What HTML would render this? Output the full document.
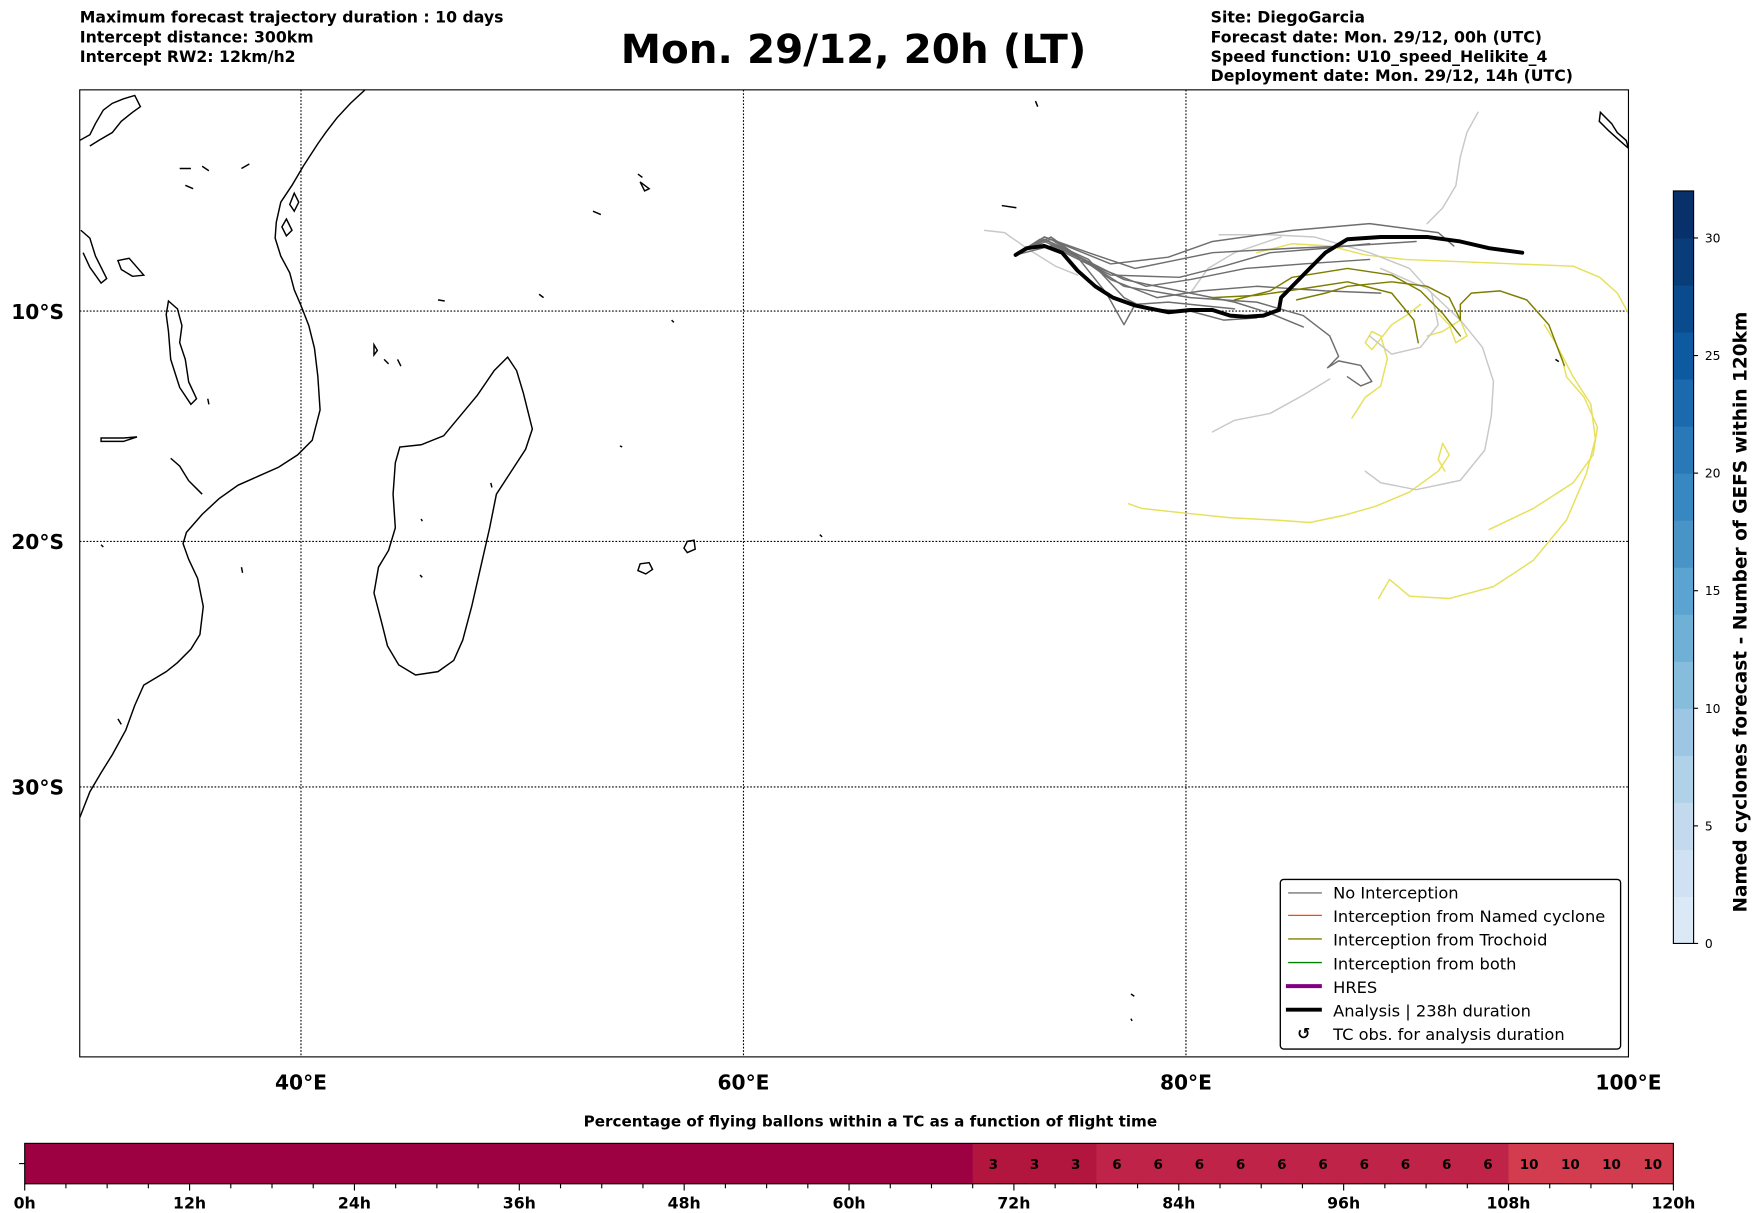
<!DOCTYPE html>
<html><head><meta charset="utf-8"><style>
html,body{margin:0;padding:0;background:#fff}
svg{display:block}
text{font-family:"DejaVu Sans","Liberation Sans",sans-serif}
</style></head><body>
<svg id="fig" width="1752" height="1213" viewBox="0 0 1560 1080" preserveAspectRatio="none" xmlns="http://www.w3.org/2000/svg">
<g font-size="14" font-weight="bold">
<text x="71" y="20">Maximum forecast trajectory duration : 10 days</text>
<text x="71" y="38">Intercept distance: 300km</text>
<text x="71" y="55">Intercept RW2: 12km/h2</text>
</g>
<text x="760" y="56" font-size="36" font-weight="bold" text-anchor="middle">Mon. 29/12, 20h (LT)</text>
<g font-size="14" font-weight="bold">
<text x="1078" y="20">Site: DiegoGarcia</text>
<text x="1078" y="38">Forecast date: Mon. 29/12, 00h (UTC)</text>
<text x="1078" y="55">Speed function: U10_speed_Helikite_4</text>
<text x="1078" y="72">Deployment date: Mon. 29/12, 14h (UTC)</text>
</g>
<defs><clipPath id="mapclip"><rect x="71" y="80" width="1379" height="861"/></clipPath></defs>
<g id="map">
<rect x="71" y="80" width="1379" height="861" fill="#fff"/>
<g id="grid"></g>
<g clip-path="url(#mapclip)" fill="none" stroke="#000" stroke-width="1.3">
<path d="M325,80 L312,92 300,105 290,118 283,128 270,148 260,165 250,180 246,198 245,212 250,228 258,243 262,258 268,272 275,290 280,310 283,335 285,365 278,392 265,405 248,416 230,424 212,432 195,444 180,458 166,474 163,484 168,498 176,515 181,540 178,565 170,578 158,590 148,598 128,610 120,628 112,650 100,672 90,688 80,705 71,728"/>
<path d="M72,205 L80,212 85,228 95,248 90,252 80,238 74,225"/>
<path d="M150,268 L158,275 162,290 160,305 165,320 168,340 175,355 170,360 160,345 152,320 150,295 148,280 Z"/>
<path d="M105,232 L115,230 122,238 128,245 118,246 108,240 Z"/>
<path d="M452,318 L460,330 466,350 474,382 468,400 455,420 442,440 436,470 428,505 420,540 412,570 404,588 390,598 370,601 355,592 345,575 340,555 333,528 337,505 346,490 352,470 350,440 352,412 356,398 375,396 395,388 410,370 425,352 440,330 Z"/>
<path d="M71,125 L80,120 85,110 92,98 100,92 110,88 120,85 125,95 118,100 108,108 100,118 88,125 80,130"/>
<path d="M262,172 L266,180 262,188 258,182 Z M255,195 L260,205 255,210 251,202 Z"/>
<path d="M90,390 L110,390 122,389 110,393 90,393 Z"/>
<path d="M152,408 L160,415 168,428 175,435 180,440"/>
<path d="M570,502 L578,501 581,507 575,511 568,508 Z"/>
<path d="M612,482 L618,481 619,489 612,492 609,488 Z"/>
<path d="M333,307 L336,312 333,316 Z M342,320 L346,324 Z M354,320 L357,326 Z"/>
<path d="M568,155 L572,158 Z M570,162 L578,168 574,170 Z"/>
<path d="M1425,100 L1435,110 1440,118 1448,125 1450,132 1442,125 1432,116 1424,108 Z"/>
<path d="M160,150 L170,150 M165,165 L172,168 M180,148 L186,152 M215,150 L222,146 M390,267 L396,268 M480,262 L484,265 M528,188 L535,191 M598,285 L600,287 M892,183 L905,185 M922,90 L924,95 M1385,320 L1388,322 M1007,885 L1010,887 M1007,907 L1008,909 M730,476 L732,478 M552,397 L554,398 M437,430 L438,434 M374,512 L376,514 M375,462 L376,464 M185,355 L186,360 M215,505 L216,510 M90,485 L92,487 M105,640 L108,645"/>
</g>
<g id="traj" clip-path="url(#mapclip)" fill="none" stroke-linejoin="round" stroke-linecap="round"></g>
<rect x="71" y="80" width="1379" height="861" fill="none" stroke="#000" stroke-width="1"/>
<g id="axlabels" font-size="18" font-weight="bold"></g>
<g font-size="14.5">
<rect x="1140" y="783" width="303" height="151" rx="3" fill="#fff" stroke="#000" stroke-width="1.2"/>
<line x1="1147" y1="795" x2="1177" y2="795" stroke="#777" stroke-width="1.2"/><text x="1187" y="800">No Interception</text>
<line x1="1147" y1="815" x2="1177" y2="815" stroke="#ff4500" stroke-width="1.2"/><text x="1187" y="821">Interception from Named cyclone</text>
<line x1="1147" y1="836" x2="1177" y2="836" stroke="#808000" stroke-width="1.2"/><text x="1187" y="842">Interception from Trochoid</text>
<line x1="1147" y1="857" x2="1177" y2="857" stroke="#008000" stroke-width="1.2"/><text x="1187" y="863">Interception from both</text>
<line x1="1145" y1="878" x2="1177" y2="878" stroke="#800080" stroke-width="3.5"/><text x="1187" y="884">HRES</text>
<line x1="1145" y1="899" x2="1177" y2="899" stroke="#000" stroke-width="3.5"/><text x="1187" y="905">Analysis | 238h duration</text>
<text x="1155" y="925" font-weight="bold" font-size="14">↺</text><text x="1187" y="926">TC obs. for analysis duration</text>
</g>
</g>
<g id="cbar"></g>
<text transform="translate(1555,545) rotate(-90)" font-size="16.5" font-weight="bold" text-anchor="middle">Named cyclones forecast - Number of GEFS within 120km</text>
<text x="775" y="1003" font-size="13.5" font-weight="bold" text-anchor="middle">Percentage of flying ballons within a TC as a function of flight time</text>
<g id="tbar"></g>
</svg>
<script>
const NS='http://www.w3.org/2000/svg';
// ---- data ----
const latTicks=[10,20,30];
const lonTicks=[40,60,80,100];
const analysisTrack=[[72.3,7.5],[72.8,7.2],[73.6,7.1],[74.4,7.4],[75.1,8.2],[75.9,8.9],[76.7,9.4],[77.7,9.75],[79.2,10.05],[80.2,9.95],[81.2,9.95],[82.0,10.2],[82.7,10.25],[83.5,10.2],[84.2,9.95],[84.3,9.4],[84.8,8.9],[85.5,8.2],[86.3,7.4],[87.3,6.8],[88.8,6.7],[90.9,6.7],[92.4,6.9],[93.7,7.2],[95.2,7.4]];
const noInterceptTracks=[
[[72.3,7.5],[73.6,6.7],[75.6,7.4],[77.7,8.1],[79.7,7.7],[81.2,7.4],[84.8,7.2],[87.3,7.1],[90.4,6.9]],
[[72.3,7.5],[73.6,6.8],[76.1,8.1],[78.2,8.9],[80.2,8.6],[82.7,8.1],[85.3,7.9],[88.3,7.7]],
[[72.3,7.5],[73.9,6.7],[76.6,8.6],[78.7,9.4],[80.7,9.1],[83.2,8.9],[86.3,9.1],[88.8,9.2]],
[[72.3,7.5],[73.6,6.8],[77.2,8.6],[80.2,9.2],[82.2,9.6],[83.8,10.1],[85.3,10.7]],
[[72.3,7.5],[73.4,6.8],[75.1,7.6],[76.4,9.2],[77.2,10.6],[77.7,9.7],[79.2,9.6],[82.2,9.9]],
[[72.3,7.5],[73.9,6.8],[77.2,8.9],[80.2,9.4],[83.2,9.6],[85.3,10.2],[86.5,11.1],[86.9,12.0],[86.4,12.5],[86.9,12.2],[87.9,12.4],[88.4,13.1],[87.9,13.3],[87.3,12.9]],
[[72.3,7.5],[73.6,6.7],[76.6,7.9],[79.2,7.6],[81.2,6.9],[84.8,6.4],[88.3,6.1],[91.4,6.5],[92.1,7.1]],
[[72.3,7.5],[73.9,7.1],[76.6,8.4],[79.7,8.5],[81.7,8.0],[83.8,7.4],[86.3,7.2],[88.3,7.0]],
[[72.3,7.5],[73.6,6.8],[75.6,7.7],[77.2,9.4],[78.2,9.9],[80.2,10.0],[81.7,10.4],[83.2,10.3]]
];
const lateTracks=[
[[70.9,6.4],[71.8,6.5],[72.8,7.2],[74.1,8.0],[75.1,8.4]],
[[90.9,6.1],[91.6,5.4],[92.2,4.4],[92.4,3.1],[92.7,2.0],[93.2,1.1]],
[[81.2,15.3],[82.2,14.8],[83.8,14.5],[85.3,13.7],[86.5,13.0]],
[[88.8,8.1],[90.9,9.0],[92.4,10.4],[93.4,11.6],[93.9,13.1],[93.8,14.6],[93.5,16.1],[92.4,17.4],[90.4,17.8],[88.8,17.5],[88.1,17.0]],
[[81.5,6.6],[83.8,6.6],[85.8,6.7],[88.3,7.4],[90.1,8.1],[91.1,9.2],[91.4,10.6],[90.6,11.6],[89.3,11.9],[88.3,11.1]],
[[80.2,9.2],[81.0,8.1],[82.2,7.4],[84.3,6.7]]
];
const trochoidTracks=[
[[82.2,9.5],[83.8,9.1],[84.8,8.5],[87.3,8.1],[89.3,8.4],[90.6,9.1],[91.6,10.1],[92.4,11.1]],
[[85.0,9.5],[86.3,9.2],[87.3,8.9],[89.3,8.7],[90.9,8.9],[91.9,9.4],[92.4,10.4],[92.4,9.7],[92.9,9.2],[94.2,9.1],[95.4,9.5],[96.4,10.6],[97.1,12.4]],
[[81.2,9.4],[83.2,9.3],[85.3,9.0],[87.3,8.7],[89.3,9.2],[90.3,10.4],[90.5,11.4]]
];
const fadedTracks=[
[[83.2,7.4],[84.8,7.0],[86.5,7.1],[88.1,7.5],[89.9,7.7],[92.4,7.8],[94.9,7.9],[97.5,8.0],[98.7,8.5],[99.5,9.2],[100.0,10.1]],
[[77.4,18.4],[78.0,18.6],[80.0,18.8],[82.0,19.0],[84.1,19.1],[85.6,19.2],[87.1,18.9],[88.6,18.5],[90.1,17.9],[91.4,17.0],[91.9,16.3],[91.6,15.8],[91.4,16.5],[91.7,17.0]],
[[88.7,22.4],[89.2,21.6],[90.1,22.3],[91.9,22.4],[93.9,21.9],[95.7,20.8],[97.2,19.1],[98.1,17.1],[98.5,15.6],[98.3,14.1],[97.5,12.9],[96.7,11.4],[96.2,10.6]],
[[93.7,19.5],[95.7,18.6],[97.5,17.5],[98.4,16.3],[98.6,15.1],[98.0,13.8],[97.2,12.9],[97.0,12.1]],
[[87.5,14.7],[88.1,13.8],[88.8,13.3],[89.1,12.1],[88.8,11.1],[88.4,10.9],[88.1,11.4],[88.4,11.7],[88.9,11.1],[89.3,10.6],[90.1,10.1],[90.6,9.7]],
[[90.9,11.1],[91.6,10.9],[92.4,10.4],[92.7,11.1],[92.2,11.4],[91.9,10.6],[91.4,10.1]]
];
const cbarTicks=[0,5,10,15,20,25,30];
const hourTicks=[0,12,24,36,48,60,72,84,96,108,120];
const pctValues=[0,0,0,0,0,0,0,0,0,0,0,0,0,0,0,0,0,0,0,0,0,0,0,3,3,3,6,6,6,6,6,6,6,6,6,6,10,10,10,10];
// ---- axes ----
const merc=l=>Math.log(Math.tan(Math.PI/4+l*Math.PI/360));
const X=lon=>71+(lon-30)*19.7;
const Y=lat=>277+(merc(lat)-merc(10))*1133;
function mk(tag,attrs,parent){const e=document.createElementNS(NS,tag);for(const k in attrs)e.setAttribute(k,attrs[k]);parent.appendChild(e);return e;}
const grid=document.getElementById('grid'),axl=document.getElementById('axlabels');
latTicks.forEach(l=>{const y=Y(l);
 const g=mk('line',{x1:71,x2:1450,y1:y,y2:y,stroke:'#000','stroke-width':1,'stroke-dasharray':'1.5,1.5'},grid);
 
 
 const t=mk('text',{x:57,y:y+7,'text-anchor':'end'},axl);t.textContent=l+'°S';
 
 });
lonTicks.forEach(l=>{const x=X(l);
 if(l<100){const g=mk('line',{x1:x,x2:x,y1:80,y2:941,stroke:'#000','stroke-width':1,'stroke-dasharray':'1.5,1.5'},grid);
 
 }
 const t=mk('text',{x:x,y:970,'text-anchor':'middle'},axl);t.textContent=l+'°E';
 
 });
const traj=document.getElementById('traj');
const pts=tr=>tr.map(p=>X(p[0]).toFixed(1)+','+Y(p[1]).toFixed(1)).join(' ');
function draw(list,color,w,name){list.forEach(tr=>{const e=mk('polyline',{points:pts(tr),stroke:color,'stroke-width':w},traj);
 
 });}
draw(fadedTracks,'#e6e05a',1.3,'trochoid-late-track');
draw(lateTracks,'#c8c8c8',1.3,'no-interception-late-track');
draw(noInterceptTracks,'#6e6e6e',1.3,'no-interception-track');
draw(trochoidTracks,'#7d7d00',1.3,'trochoid-track');
draw([analysisTrack],'#000',3.5,'analysis-track');
// colorbar
const cb=document.getElementById('cbar');const cbTop=170,cbBot=840,cbMax=32;
const CY=v=>cbBot-(v/cbMax)*(cbBot-cbTop);
const blues=['#dbe9f6','#cfe1f2','#c2d9ee','#b0d2e8','#9cc6e3','#86bcdc','#6fb0d7','#5ba3d0','#4894c7','#3787c0','#2979b8','#1b6aae','#0e5aa1','#094b8d','#083d7a','#08306b'];
blues.forEach((c,i)=>{const v0=i*2,v1=i*2+2;const r=mk('rect',{x:1490,y:CY(v1),width:18,height:CY(v0)-CY(v1)+0.5,fill:c},cb);
 
 });
mk('rect',{x:1490,y:cbTop,width:18,height:cbBot-cbTop,fill:'none',stroke:'#000','stroke-width':1},cb);
cbarTicks.forEach(v=>{mk('line',{x1:1508,x2:1512,y1:CY(v),y2:CY(v),stroke:'#000'},cb);
 const t=mk('text',{x:1518,y:CY(v)+4,'font-size':11},cb);t.textContent=v;
 
 });
// time bar
const tb=document.getElementById('tbar');const T=h=>22+h*(1468/120);
const colFor=v=>v>=10?'#d33c4e':v>=6?'#bf2347':v>=3?'#b2163f':'#9e0142';
pctValues.forEach((v,i)=>{const h0=i*3;const r=mk('rect',{x:T(h0),y:1018,width:T(h0+3)-T(h0)+0.5,height:36,fill:colFor(v)},tb);
 
 
 if(v>0){const t=mk('text',{x:T(h0+1.5),y:1041,'text-anchor':'middle','font-size':12,'font-weight':'bold'},tb);t.textContent=v;
 
 }});
mk('rect',{x:22,y:1018,width:1468,height:36,fill:'none',stroke:'#000','stroke-width':1},tb);
mk('line',{x1:17,x2:22,y1:1036,y2:1036,stroke:'#000'},tb);
for(let h=0;h<=120;h+=3){mk('line',{x1:T(h),x2:T(h),y1:1054,y2:h%12===0?1060:1058,stroke:'#000'},tb);}
hourTicks.forEach(h=>{const t=mk('text',{x:T(h),y:1076,'text-anchor':'middle','font-size':14,'font-weight':'bold'},tb);t.textContent=h+'h';
 
 });
</script>
</body></html>
